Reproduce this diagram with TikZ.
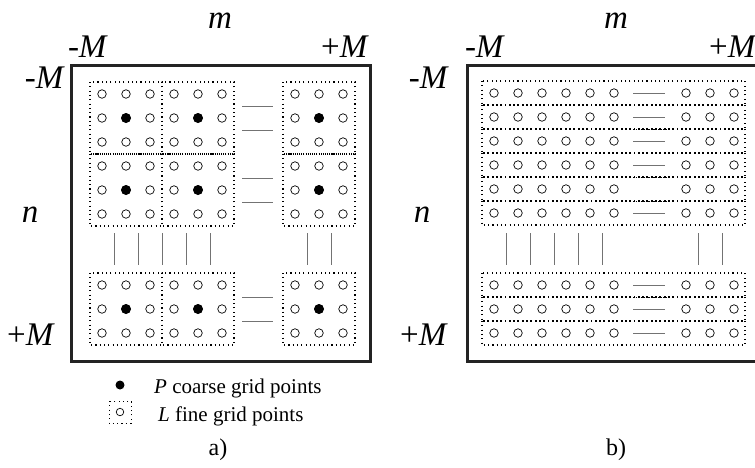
\documentclass[tikz,border=0pt]{standalone}
\usepackage{fontspec}
\setmainfont{Liberation Serif}
\usetikzlibrary{positioning}

\definecolor{framegray}{RGB}{35, 35, 35}

\tikzset{
  frame/.style={draw=framegray, line width=3pt},
  gridbox/.style={draw=black, line width=1.1pt, dash pattern=on 1.1pt off 3.2pt},
  fine/.style={circle, draw=black, line width=0.7pt, fill=white, inner sep=0pt, minimum size=8.5pt},
  coarse/.style={circle, fill=black, inner sep=0pt, minimum size=10pt},
  gap/.style={draw=black!55, line width=0.7pt},
  lbl/.style={font=\fontsize{33}{33}\selectfont, inner sep=0pt, anchor=base},
  legend/.style={font=\fontsize{21}{21}\selectfont, inner sep=0pt, anchor=base west}
}

\begin{document}
\begin{tikzpicture}[x=1pt, y=-1pt]
  \useasboundingbox (0,0) rectangle (755,467);

  % a) coarse and fine grid
  \node[lbl] (ma) at (220,28) {\textit{m}};
  \node[lbl] (mla) at (88,57) {-\textit{M}};
  \node[lbl] (mra) at (345,57) {+\textit{M}};
  \node[lbl, anchor=base east] (nta) at (65,88) {-\textit{M}};
  \node[lbl] (na) at (30,222) {\textit{n}};
  \node[lbl] (nba) at (31,345) {+\textit{M}};
  \draw[frame] (71,65) rectangle (370,361);

  \foreach \bx/\by [count=\i] in {90/82, 162/82, 283/82, 90/154, 162/154, 283/154, 90/273, 162/273, 283/273}{
    \draw[gridbox] (\bx,\by) rectangle ++(72,72);
    \foreach \c in {0,1,2}
      \foreach \r in {0,1,2}
        \node[fine] (fa-\i-\c-\r) at (\bx+12+24*\c, \by+12+24*\r) {};
    \node[coarse] (ca-\i) at (\bx+36, \by+36) {};
  }
  \foreach \by in {82,154,273}{
    \draw[gap] (242,\by+24) -- (273,\by+24);
    \draw[gap] (242,\by+48) -- (273,\by+48);
  }
  \foreach \x in {114,138,162,186,210,307,331}
    \draw[gap] (\x,233) -- (\x,265);

  % legend
  \node[coarse, minimum size=9pt] (lp) at (120,385) {};
  \draw[gridbox, line width=0.9pt] (109,401) rectangle (131,423);
  \node[fine, minimum size=7.5pt] (ll) at (120,412) {};
  \node[legend] (tp) at (154,393) {\textit{P} coarse grid points};
  \node[legend] (tl) at (158,421) {\textit{L} fine grid points};
  \node[legend, anchor=base, font=\fontsize{24}{24}\selectfont] (capa) at (218,455) {a)};

  % b) fine grid rows
  \node[lbl] (mb) at (616,28) {\textit{m}};
  \node[lbl] (mlb) at (485,57) {-\textit{M}};
  \node[lbl] (mrb) at (733,57) {+\textit{M}};
  \node[lbl, anchor=base east] (ntb) at (449,88) {-\textit{M}};
  \node[lbl] (nb) at (422,222) {\textit{n}};
  \node[lbl] (nbb) at (424,345) {+\textit{M}};
  \draw[frame] (467,65) rectangle (766,361);

  \foreach \ry/\dash [count=\i] in {81/1, 105/1, 129/1, 153/1, 177/0, 201/1, 273/1, 297/1, 321/1}{
    \draw[gridbox] (482,\ry) rectangle (745,\ry+24);
    \foreach \c in {0,...,5}
      \node[fine] (fb-\i-\c) at (494+24*\c, \ry+12) {};
    \foreach \c in {0,1,2}
      \node[fine] (gb-\i-\c) at (686+24*\c, \ry+12) {};
    \ifnum\dash=1
      \draw[gap] (633,\ry+12) -- (665,\ry+12);
    \fi
  }
  \foreach \y in {129,177,201,297}
    \draw[line width=1pt, dash pattern=on 1.5pt off 1pt] (633,\y) -- (667,\y);
  \foreach \x in {506,530,554,578,602,698,722}
    \draw[gap] (\x,233) -- (\x,265);

  \node[legend, anchor=base, font=\fontsize{24}{24}\selectfont] (capb) at (616,455) {b)};
\end{tikzpicture}
\end{document}
